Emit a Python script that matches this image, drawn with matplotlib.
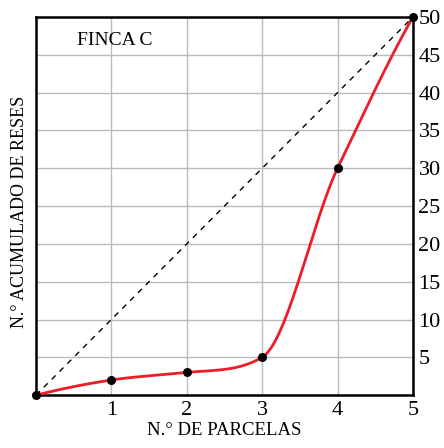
import matplotlib.pyplot as plt
import numpy as np

plt.rcParams['font.family'] = ['Liberation Serif', 'DejaVu Serif']

parcelas = [0, 1, 2, 3, 4, 5]
reses = [0, 2, 3, 5, 30, 50]
x_ticks = [1, 2, 3, 4, 5]
y_ticks = [5, 10, 15, 20, 25, 30, 35, 40, 45, 50]


def akima(x, y, xs):
    # Akima spline, keeps the kink at x=3 without overshoot
    x = np.asarray(x, float)
    y = np.asarray(y, float)
    h = np.diff(x)
    d = np.diff(y) / h
    d = np.concatenate([[3 * d[0] - 2 * d[1], 2 * d[0] - d[1]], d,
                        [2 * d[-1] - d[-2], 3 * d[-1] - 2 * d[-2]]])
    m = np.zeros_like(y)
    for i in range(len(x)):
        w1 = abs(d[i + 3] - d[i + 2])
        w2 = abs(d[i + 1] - d[i])
        if w1 + w2 == 0:
            m[i] = 0.5 * (d[i + 1] + d[i + 2])
        else:
            m[i] = (w1 * d[i + 1] + w2 * d[i + 2]) / (w1 + w2)
    ys = np.empty_like(xs)
    for i, t in enumerate(xs):
        k = min(np.searchsorted(x, t, side='right') - 1, len(x) - 2)
        s = (t - x[k]) / h[k]
        h00 = 2 * s**3 - 3 * s**2 + 1
        h10 = s**3 - 2 * s**2 + s
        h01 = -2 * s**3 + 3 * s**2
        h11 = s**3 - s**2
        ys[i] = h00 * y[k] + h10 * h[k] * m[k] + h01 * y[k + 1] + h11 * h[k] * m[k + 1]
    return ys


fig = plt.figure(figsize=(4.44, 4.48), dpi=100)
ax = fig.add_axes([0.081, 0.118, 0.849, 0.844])

ax.plot([parcelas[0], parcelas[-1]], [reses[0], reses[-1]], color='black',
        linestyle=(0, (4, 4)), linewidth=1, zorder=2)

xs = np.linspace(parcelas[0], parcelas[-1], 400)
ax.plot(xs, akima(parcelas, reses, xs), color='#ee1c24', linewidth=2, zorder=3)
ax.scatter(parcelas, reses, color='black', s=30, zorder=4, clip_on=False)

ax.set_xlim(0, 5)
ax.set_ylim(0, 50)
ax.set_xticks(x_ticks)
ax.set_yticks(y_ticks)
ax.yaxis.tick_right()
ax.tick_params(axis='both', length=0, labelsize=16, pad=4)
ax.grid(True, color='#bbbbbb', linewidth=1)
ax.set_axisbelow(True)
for sp in ax.spines.values():
    sp.set_linewidth(1.8)

ax.text(0.55, 46.9, 'FINCA C', fontsize=14, ha='left', va='center')
ax.set_xlabel('N.° DE PARCELAS', fontsize=13.5, labelpad=2)
fig.text(0.045, 0.527, 'N.° ACUMULADO DE RESES', fontsize=13, rotation=90,
         ha='center', va='center')

fig.savefig('out.png', dpi=100)
